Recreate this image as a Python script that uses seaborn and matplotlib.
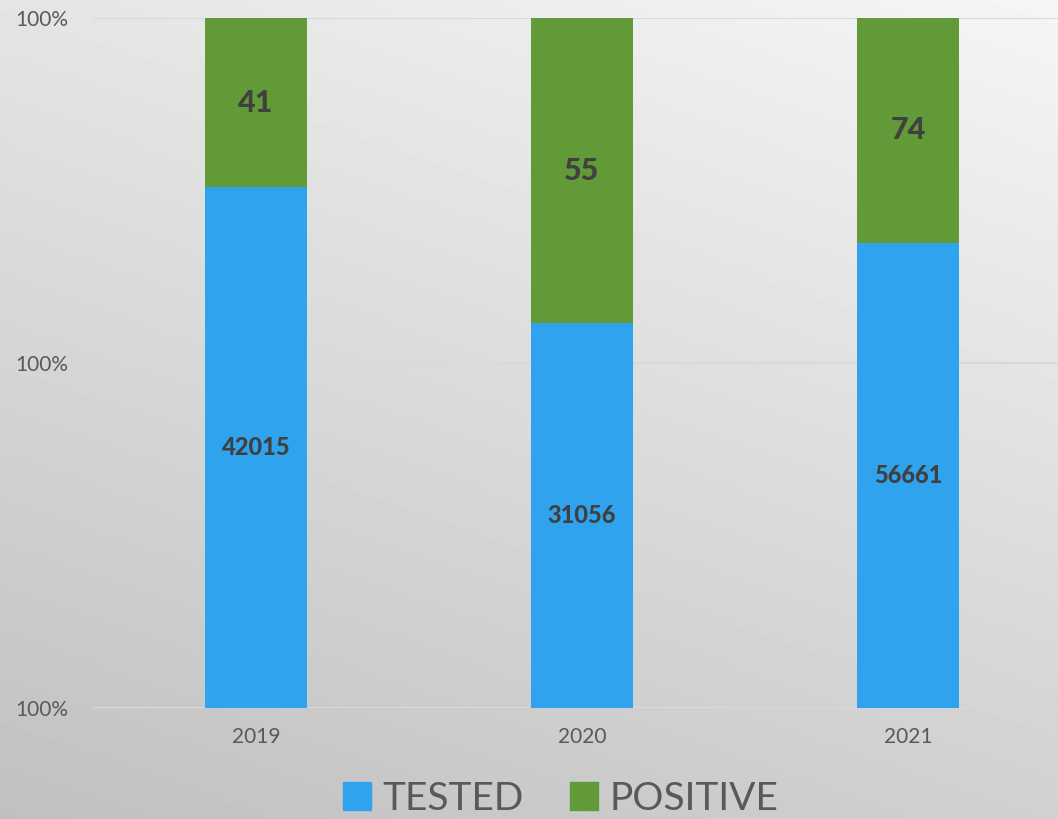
import numpy as np
import pandas as pd
import matplotlib.pyplot as plt
import seaborn as sns
from matplotlib.patches import Patch

# Chart data
years = ['2019', '2020', '2021']
tested = [42015, 31056, 56661]
positive = [41, 55, 74]
# share of bar height taken by the TESTED segment
tested_share = [0.755, 0.558, 0.674]
total_share = [1.0, 1.0, 1.0]
ytick_values = [0, 0.5, 1.0]
ytick_labels = ['100%', '100%', '100%']

blue = '#2FA3EE'
green = '#629A38'
label_color = '#404040'
tick_color = '#595959'

df = pd.DataFrame({'year': years, 'tested': tested, 'positive': positive,
                   'tested_share': tested_share, 'total_share': total_share})

sns.set_theme(style='white')
plt.rcParams['font.family'] = ['Lato', 'DejaVu Sans']

fig = plt.figure(figsize=(10.58, 8.19), dpi=100)

# gradient background (light top-right, darker bottom-left)
bg = fig.add_axes([0, 0, 1, 1], zorder=-10)
yy, xx = np.mgrid[0:1:200j, 0:1:200j]
shade = 0.55 * yy + 0.25 * xx
bg.imshow(shade, extent=[0, 1, 0, 1], origin='lower', cmap='gray',
          vmin=-2.9, vmax=0.95, aspect='auto')
bg.axis('off')

ax = fig.add_axes([0.0879, 0.1355, 0.9244, 0.8425])
ax.patch.set_alpha(0)

sns.barplot(data=df, x='year', y='total_share', color=green, width=0.313,
            saturation=1, linewidth=0, ax=ax, zorder=3)
sns.barplot(data=df, x='year', y='tested_share', color=blue, width=0.313,
            saturation=1, linewidth=0, ax=ax, zorder=4)

for i, row in df.iterrows():
    ax.text(i, row['tested_share'] / 2, f"{row['tested']}", ha='center', va='center',
            fontsize=17, fontweight='black', color=label_color, zorder=5)
    ax.text(i, (row['tested_share'] + 1) / 2, f"{row['positive']}", ha='center', va='center',
            fontsize=22, fontweight='black', color=label_color, zorder=5)

ax.set_xlim(-0.5, 2.5)
ax.set_ylim(0, 1)
ax.set_yticks(ytick_values)
ax.set_yticklabels(ytick_labels)
ax.yaxis.grid(True, color='#d9d9d9', linewidth=1.5, zorder=0)
ax.set_axisbelow(True)
for s in ax.spines.values():
    s.set_visible(False)
ax.tick_params(axis='y', length=0, labelsize=15, labelcolor=tick_color, pad=18)
ax.tick_params(axis='x', length=0, labelsize=15, labelcolor=tick_color, pad=14)
ax.set_xlabel('')
ax.set_ylabel('')

handles = [Patch(color=blue, label='TESTED'), Patch(color=green, label='POSITIVE')]
leg = fig.legend(handles=handles, loc='center', bbox_to_anchor=(0.53, 0.025), ncol=2,
                 frameon=False, fontsize=28, handlelength=0.7, handleheight=0.7,
                 handletextpad=0.3, columnspacing=1.2, labelcolor=tick_color)

fig.savefig('out.png', dpi=100)
